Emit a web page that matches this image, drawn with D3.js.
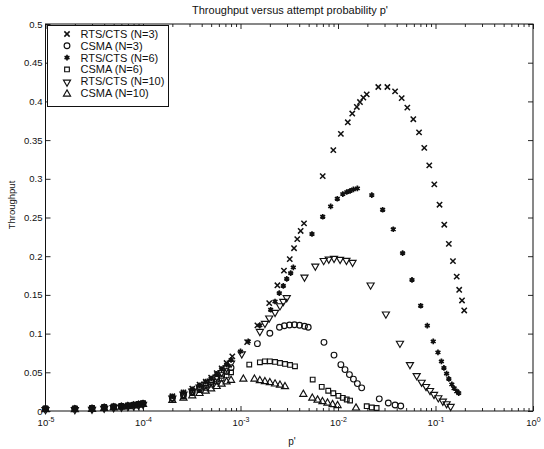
<!DOCTYPE html>
<html>
<head>
<meta charset="utf-8">
<script src="https://cdn.jsdelivr.net/npm/d3@7"></script>
<style>
  body { margin: 0; background: #fff; }
  svg { display: block; }
  text { font-family: "Liberation Sans", Arial, Helvetica, sans-serif; fill: #111; }
</style>
</head>
<body>
<svg id="chart" width="544" height="449"></svg>
<script>
// ---- data: throughput versus attempt probability p' ----
// light-load points shared by every curve
const lowP = [1e-5, 2e-5, 3e-5, 4e-5, 5e-5, 6e-5, 7e-5, 8e-5, 9e-5, 1e-4];
const lowT = [0.003, 0.003, 0.0035, 0.0048, 0.0055, 0.0062, 0.007, 0.0078, 0.0088, 0.0098];

// RTS/CTS, N = 3
const rts3P = [2e-4, 2.6e-4, 3.2e-4, 3.8e-4, 4.4e-4, 5e-4, 5.7e-4, 6.4e-4, 7.2e-4, 8.24e-4,
  1.17e-3, 1.49e-3,
  1.97e-3, 2.39e-3, 2.79e-3, 3.2e-3, 3.54e-3, 3.82e-3, 4.14e-3, 4.48e-3,
  6.97e-3, 8.95e-3, 1.07e-2, 1.26e-2, 1.4e-2, 1.56e-2, 1.68e-2, 1.82e-2, 1.97e-2,
  2.59e-2, 3.21e-2, 3.85e-2, 4.5e-2, 5.14e-2, 5.92e-2, 6.78e-2, 7.67e-2, 8.63e-2, 9.72e-2,
  0.110, 0.123, 0.137, 0.151, 0.165, 0.175, 0.187, 0.197];
const rts3T = [0.019, 0.024, 0.029, 0.034, 0.038, 0.043, 0.049, 0.055, 0.062, 0.0706,
  0.089, 0.1106,
  0.1394, 0.1624, 0.1814, 0.1963, 0.2103, 0.222, 0.2326, 0.2425,
  0.3035, 0.337, 0.358, 0.373, 0.3843, 0.3928, 0.3992, 0.4049, 0.4091,
  0.4186, 0.4186, 0.413, 0.4043, 0.392, 0.377, 0.360, 0.340, 0.3173, 0.2928,
  0.2665, 0.2407, 0.2159, 0.1936, 0.1737, 0.1566, 0.1428, 0.1299];

// CSMA, N = 3
const csma3P = [2e-4, 2.6e-4, 3.2e-4, 3.8e-4, 4.4e-4, 5e-4, 5.7e-4, 6.4e-4, 7.2e-4, 8e-4,
  1.49e-3, 2.0e-3, 2.51e-3, 2.82e-3, 3.18e-3, 3.58e-3, 4.03e-3, 4.53e-3, 4.95e-3,
  7.18e-3, 9.1e-3, 1.07e-2, 1.18e-2, 1.31e-2, 1.44e-2, 1.58e-2, 1.75e-2,
  2.65e-2, 3.28e-2, 3.85e-2, 4.4e-2];
const csma3T = [0.017, 0.021, 0.025, 0.029, 0.033, 0.037, 0.041, 0.046, 0.051, 0.056,
  0.087, 0.1005, 0.1082, 0.1102, 0.1111, 0.1115, 0.1108, 0.1095, 0.1082,
  0.0887, 0.0722, 0.0599, 0.0535, 0.047, 0.0412, 0.0354, 0.0299,
  0.0157, 0.0103, 0.0077, 0.0064];

// RTS/CTS, N = 6
const rts6P = [2e-4, 2.6e-4, 3.2e-4, 3.8e-4, 4.4e-4, 5e-4, 5.7e-4, 6.4e-4, 7.2e-4, 8e-4, 1e-3,
  1.2e-3, 1.58e-3, 2.04e-3, 2.26e-3, 2.5e-3, 2.75e-3, 2.98e-3, 3.27e-3, 3.48e-3,
  5.41e-3, 6.97e-3, 8.41e-3, 9.84e-3, 1.12e-2, 1.23e-2, 1.33e-2, 1.44e-2, 1.58e-2,
  2.22e-2, 2.87e-2, 3.69e-2, 4.6e-2, 5.74e-2, 7.05e-2, 8.24e-2, 9.48e-2,
  0.106, 0.115, 0.122, 0.130, 0.137, 0.147, 0.155, 0.165, 0.173];
const rts6T = [0.019, 0.024, 0.028, 0.033, 0.038, 0.042, 0.048, 0.054, 0.060, 0.066, 0.077,
  0.090, 0.1106, 0.1308, 0.1415, 0.1523, 0.1617, 0.1707, 0.1781, 0.1856,
  0.2287, 0.251, 0.2644, 0.2742, 0.2803, 0.2829, 0.2845, 0.2863, 0.2876,
  0.279, 0.260, 0.2348, 0.2039, 0.1695, 0.136, 0.1102, 0.090,
  0.0758, 0.0642, 0.0557, 0.0483, 0.0415, 0.0345, 0.0294, 0.0255, 0.0232];

// CSMA, N = 6
const csma6P = [2e-4, 2.6e-4, 3.2e-4, 3.8e-4, 4.4e-4, 5e-4, 5.7e-4, 6.4e-4, 7.2e-4, 8e-4,
  1.23e-3, 1.58e-3, 1.78e-3, 2.0e-3, 2.26e-3, 2.54e-3, 2.86e-3, 3.22e-3, 3.62e-3,
  5.5e-3, 6.81e-3, 7.94e-3, 8.95e-3, 1.01e-2, 1.12e-2, 1.23e-2, 1.33e-2,
  1.97e-2, 2.22e-2, 2.49e-2];
const csma6T = [0.016, 0.019, 0.023, 0.027, 0.030, 0.034, 0.038, 0.042, 0.046, 0.050,
  0.060, 0.0629, 0.0642, 0.0642, 0.0634, 0.0621, 0.0608, 0.0595, 0.0577,
  0.0406, 0.0312, 0.0262, 0.0229, 0.0196, 0.017, 0.0148, 0.0135,
  0.0062, 0.0045, 0.0039];

// RTS/CTS, N = 10
const rts10P = [2e-4, 2.6e-4, 3.2e-4, 3.8e-4, 4.4e-4, 5e-4, 5.7e-4, 6.4e-4, 7.2e-4, 8e-4,
  1.03e-3, 1.58e-3, 1.78e-3, 1.97e-3, 2.26e-3, 2.54e-3, 2.75e-3, 2.98e-3,
  4.53e-3, 5.85e-3, 7.13e-3, 8.04e-3, 9.1e-3, 1.05e-2, 1.22e-2, 1.41e-2,
  2.16e-2, 3.1e-2, 4.32e-2, 5.47e-2, 6.41e-2, 7.21e-2, 8.0e-2, 8.79e-2, 9.66e-2,
  0.107, 0.119, 0.130, 0.143];
const rts10T = [0.018, 0.023, 0.027, 0.032, 0.036, 0.040, 0.045, 0.051, 0.057, 0.063,
  0.075, 0.104, 0.1144, 0.1214, 0.1286, 0.1372, 0.1428, 0.1476,
  0.1742, 0.1884, 0.1956, 0.1974, 0.1985, 0.1972, 0.1959, 0.1933,
  0.164, 0.1265, 0.0887, 0.0612, 0.047, 0.0384, 0.0329, 0.0277, 0.0226,
  0.0183, 0.0139, 0.0106, 0.0071];

// CSMA, N = 10
const csma10P = [2e-4, 2.6e-4, 3.2e-4, 3.8e-4, 4.4e-4, 5e-4, 5.7e-4, 6.4e-4, 7.2e-4, 8e-4,
  1.07e-3, 1.39e-3, 1.58e-3, 1.78e-3, 2.0e-3, 2.26e-3, 2.54e-3, 2.86e-3,
  4.41e-3, 5.45e-3, 6.17e-3, 6.93e-3, 7.8e-3, 8.79e-3, 9.89e-3, 1.53e-2];
const csma10T = [0.015, 0.018, 0.021, 0.024, 0.027, 0.030, 0.033, 0.036, 0.039, 0.041,
  0.0425, 0.0425, 0.0406, 0.0393, 0.038, 0.0363, 0.0348, 0.0329,
  0.0229, 0.018, 0.0155, 0.0135, 0.0116, 0.0097, 0.0084, 0.0052];

const legendLabels = ["RTS/CTS (N=3)", "CSMA (N=3)", "RTS/CTS (N=6)", "CSMA (N=6)", "RTS/CTS (N=10)", "CSMA (N=10)"];
const markerKinds = ["times", "circle", "star", "square", "triangleDown", "triangleUp"];
const xTickExponents = [-5, -4, -3, -2, -1, 0];
const yTickValues = [0, 0.05, 0.1, 0.15, 0.2, 0.25, 0.3, 0.35, 0.4, 0.45, 0.5];

// ---- layout ----
const plot = { left: 45.5, right: 533, top: 24, bottom: 411 };
const ink = "#111";

const svg = d3.select("#chart");
const x = d3.scaleLog().domain([1e-5, 1]).range([plot.left, plot.right]);
const y = d3.scaleLinear().domain([0, 0.5]).range([plot.bottom, plot.top]);

// ---- axes (boxed, inward ticks) ----
const majorX = xTickExponents.map(e => Math.pow(10, e));
const minorX = [];
for (let e = -5; e < 0; e++) for (let k = 2; k <= 9; k++) minorX.push(k * Math.pow(10, e));

function styleAxis(g) {
  g.select(".domain").remove();
  g.selectAll("line").attr("stroke", ink).attr("stroke-width", 0.9);
}

// bottom major ticks with 10^n labels
const gxb = svg.append("g").attr("transform", `translate(0,${plot.bottom})`)
  .call(d3.axisBottom(x).tickValues(majorX).tickSize(-5).tickPadding(8).tickFormat(() => ""));
styleAxis(gxb);
gxb.selectAll(".tick text").each(function (d) {
  const t = d3.select(this).attr("font-size", 9.5).attr("fill", ink);
  const e = Math.round(Math.log10(d));
  t.append("tspan").text("10");
  t.append("tspan").attr("dy", -4).attr("font-size", 7).text(String(e));
});
// bottom minor ticks
styleAxis(svg.append("g").attr("transform", `translate(0,${plot.bottom})`)
  .call(d3.axisBottom(x).tickValues(minorX).tickSize(-3).tickFormat(() => "")));
// top major + minor ticks
styleAxis(svg.append("g").attr("transform", `translate(0,${plot.top})`)
  .call(d3.axisTop(x).tickValues(majorX).tickSize(-5).tickFormat(() => "")));
styleAxis(svg.append("g").attr("transform", `translate(0,${plot.top})`)
  .call(d3.axisTop(x).tickValues(minorX).tickSize(-3).tickFormat(() => "")));

// left axis with labels
const yFmt = d => (d === 0 ? "0" : String(+d.toFixed(2)));
const gyl = svg.append("g").attr("transform", `translate(${plot.left},0)`)
  .call(d3.axisLeft(y).tickValues(yTickValues).tickSize(-5).tickPadding(3).tickFormat(yFmt));
styleAxis(gyl);
gyl.selectAll(".tick text").attr("font-size", 9.5).attr("fill", ink)
  .attr("font-family", "Liberation Sans, Arial, sans-serif");
// right axis ticks
styleAxis(svg.append("g").attr("transform", `translate(${plot.right},0)`)
  .call(d3.axisRight(y).tickValues(yTickValues).tickSize(-5).tickFormat(() => "")));

// box
svg.append("rect")
  .attr("x", plot.left).attr("y", plot.top)
  .attr("width", plot.right - plot.left).attr("height", plot.bottom - plot.top)
  .attr("fill", "none").attr("stroke", ink).attr("stroke-width", 1);

// ---- markers ----
const symbolFor = {
  times: d3.symbol().type(d3.symbolTimes).size(20),
  circle: d3.symbol().type(d3.symbolCircle).size(26),
  star: d3.symbol().type(d3.symbolAsterisk).size(22),
  square: d3.symbol().type(d3.symbolSquare).size(22),
  triangleDown: d3.symbol().type(d3.symbolTriangle).size(22),
  triangleUp: d3.symbol().type(d3.symbolTriangle).size(22)
};

function drawMarker(sel, kind) {
  const path = sel.append("path").attr("d", symbolFor[kind]())
    .attr("fill", "none").attr("stroke", ink).attr("stroke-width", 1.15);
  if (kind === "times") path.attr("stroke-width", 1.5);
  if (kind === "star") {
    path.attr("stroke-width", 1.7);
    sel.append("circle").attr("r", 1.7).attr("fill", ink);
  }
  if (kind === "triangleDown") path.attr("transform", "rotate(180) translate(0,-1)");
  if (kind === "triangleUp") path.attr("transform", "translate(0,1)");
}

const seriesP = [rts3P, csma3P, rts6P, csma6P, rts10P, csma10P];
const seriesT = [rts3T, csma3T, rts6T, csma6T, rts10T, csma10T];

const marks = svg.append("g");
seriesP.forEach((ps, i) => {
  const allP = lowP.concat(ps);
  const allT = lowT.concat(seriesT[i]);
  const pts = allP.map((p, j) => ({ p, t: allT[j] }));
  marks.append("g").selectAll("g").data(pts).join("g")
    .attr("transform", d => `translate(${x(d.p)},${y(d.t)})`)
    .each(function () { drawMarker(d3.select(this), markerKinds[i]); });
});

// ---- legend ----
const lg = svg.append("g");
lg.append("rect").attr("x", 47.5).attr("y", 25.5).attr("width", 121).attr("height", 81)
  .attr("fill", "#fff").attr("stroke", ink).attr("stroke-width", 1);
legendLabels.forEach((lab, i) => {
  const cy = 34 + i * 11.8;
  const m = lg.append("g").attr("transform", `translate(67,${cy})`);
  drawMarker(m, markerKinds[i]);
  lg.append("text").attr("x", 80.5).attr("y", cy + 4).attr("font-size", 11).text(lab);
});

// ---- titles ----
svg.append("text").attr("x", 290).attr("y", 14).attr("text-anchor", "middle")
  .attr("font-size", 11).text("Throughput versus attempt probability p'");
svg.append("text").attr("transform", `translate(15,205) rotate(-90)`)
  .attr("text-anchor", "middle").attr("font-size", 9.5).text("Throughput");
svg.append("text").attr("x", 292).attr("y", 445).attr("text-anchor", "middle")
  .attr("font-size", 10).text("p'");
</script>
</body>
</html>
